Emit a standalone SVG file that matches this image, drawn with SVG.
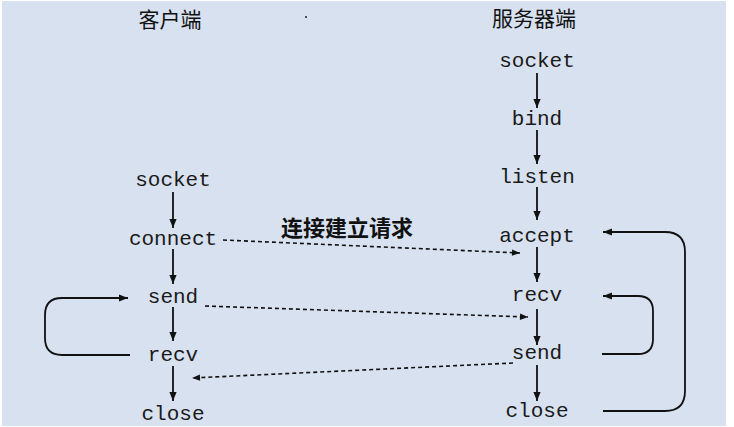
<svg xmlns="http://www.w3.org/2000/svg" width="734" height="427" viewBox="0 0 734 427">
<style>
.bg{fill:#d8e1ef}
.t{font-family:"Liberation Mono","DejaVu Sans Mono",monospace;font-size:21px;fill:#1a1a1a;text-anchor:middle}
.h{font-family:"Noto Sans CJK SC","Liberation Sans",sans-serif;font-size:21px;fill:#111;text-anchor:middle}
.s{stroke:#111;stroke-width:1.8;fill:none}
.d{stroke:#111;stroke-width:1.6;fill:none;stroke-dasharray:4 3}
</style>
<defs>
<marker id="ah" viewBox="0 0 10 10" refX="10" refY="5" markerWidth="11" markerHeight="9" markerUnits="userSpaceOnUse" orient="auto">
<path d="M0,1 L10,5 L0,9 Z" fill="#111"/>
</marker>
<marker id="ahd" viewBox="0 0 10 10" refX="10" refY="5" markerWidth="12" markerHeight="8" markerUnits="userSpaceOnUse" orient="auto">
<path d="M0,1 L10,5 L0,9 Z" fill="#111"/>
</marker>
</defs>
<rect class="bg" x="2" y="1" width="724" height="425"/>
<circle cx="306" cy="17" r="1" fill="#222"/>
<text class="h" x="170" y="27">客户端</text>
<text class="h" x="534" y="26">服务器端</text>

<g id="c-socket"><text class="t" x="173" y="186">socket</text></g>
<g id="c-connect"><text class="t" x="173" y="245">connect</text></g>
<g id="c-send"><text class="t" x="173" y="303">send</text></g>
<g id="c-recv"><text class="t" x="173" y="361">recv</text></g>
<g id="c-close"><text class="t" x="173" y="420">close</text></g>

<g id="s-socket"><text class="t" x="537" y="67">socket</text></g>
<g id="s-bind"><text class="t" x="537" y="125">bind</text></g>
<g id="s-listen"><text class="t" x="537" y="183">listen</text></g>
<g id="s-accept"><text class="t" x="537" y="242">accept</text></g>
<g id="s-recv"><text class="t" x="537" y="301">recv</text></g>
<g id="s-send"><text class="t" x="537" y="359">send</text></g>
<g id="s-close"><text class="t" x="537" y="417">close</text></g>

<g id="connectors">
<line class="s" x1="173" y1="192" x2="173" y2="228" marker-end="url(#ah)"/>
<line class="s" x1="173" y1="249" x2="173" y2="284" marker-end="url(#ah)"/>
<line class="s" x1="173" y1="307" x2="173" y2="341" marker-end="url(#ah)"/>
<line class="s" x1="173" y1="366" x2="173" y2="401" marker-end="url(#ah)"/>

<line class="s" x1="537" y1="73" x2="537" y2="108" marker-end="url(#ah)"/>
<line class="s" x1="537" y1="130" x2="537" y2="164" marker-end="url(#ah)"/>
<line class="s" x1="537" y1="187" x2="537" y2="220" marker-end="url(#ah)"/>
<line class="s" x1="537" y1="247" x2="537" y2="282" marker-end="url(#ah)"/>
<line class="s" x1="537" y1="309" x2="537" y2="345" marker-end="url(#ah)"/>
<line class="s" x1="537" y1="365" x2="537" y2="401" marker-end="url(#ah)"/>

<path class="d" d="M223,240 L520,253" marker-end="url(#ahd)"/>
<text class="h" x="347" y="236" style="font-size:22px;font-weight:bold">连接建立请求</text>
<path class="d" d="M205,306 L528,317" marker-end="url(#ahd)"/>
<path class="d" d="M513,363 L192,378" marker-end="url(#ahd)"/>

<path class="s" d="M130,355 L62,355 Q45,355 45,338 L45,315 Q45,298 62,298 L128,298" marker-end="url(#ah)"/>
<path class="s" d="M602,354 L638,354 Q653,354 653,339 L653,311 Q653,296 638,296 L603,296" marker-end="url(#ah)"/>
<path class="s" d="M603,411 L665,411 Q685,411 685,391 L685,252 Q685,232 665,232 L603,232" marker-end="url(#ah)"/>
</g>
</svg>
